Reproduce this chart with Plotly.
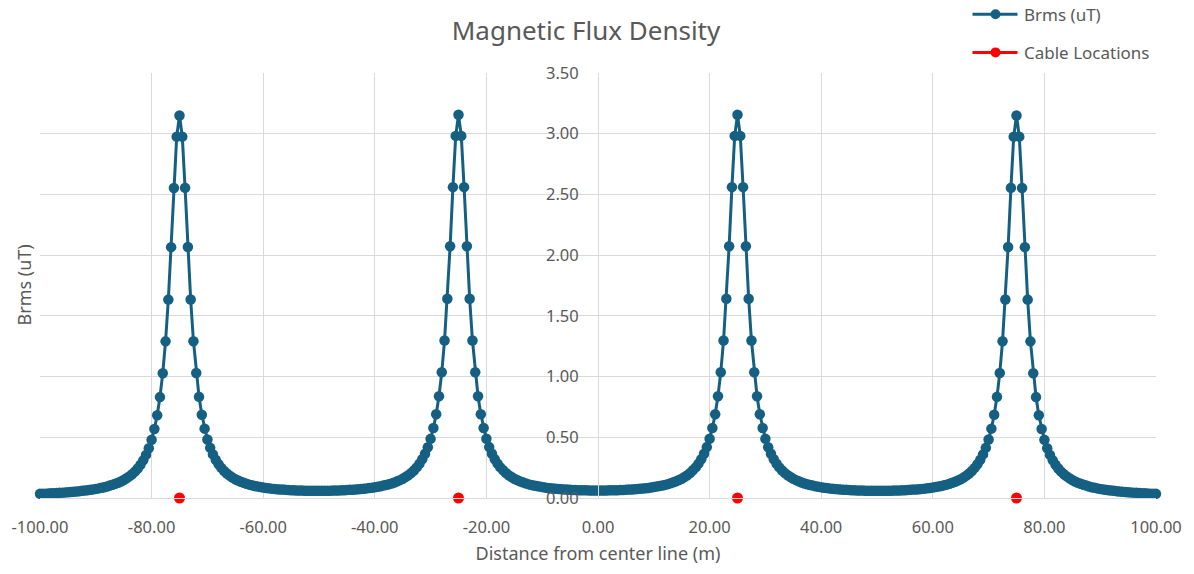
import plotly.graph_objects as go

# ---------------- data ----------------
distance_m = [
    -100, -99.5, -99, -98.5, -98, -97.5, -97, -96.5, -96, -95.5,
    -95, -94.5, -94, -93.5, -93, -92.5, -92, -91.5, -91, -90.5,
    -90, -89.5, -89, -88.5, -88, -87.5, -87, -86.5, -86, -85.5,
    -85, -84.5, -84, -83.5, -83, -82.5, -82, -81.5, -81, -80.5,
    -80, -79.5, -79, -78.5, -78, -77.5, -77, -76.5, -76, -75.5,
    -75, -74.5, -74, -73.5, -73, -72.5, -72, -71.5, -71, -70.5,
    -70, -69.5, -69, -68.5, -68, -67.5, -67, -66.5, -66, -65.5,
    -65, -64.5, -64, -63.5, -63, -62.5, -62, -61.5, -61, -60.5,
    -60, -59.5, -59, -58.5, -58, -57.5, -57, -56.5, -56, -55.5,
    -55, -54.5, -54, -53.5, -53, -52.5, -52, -51.5, -51, -50.5,
    -50, -49.5, -49, -48.5, -48, -47.5, -47, -46.5, -46, -45.5,
    -45, -44.5, -44, -43.5, -43, -42.5, -42, -41.5, -41, -40.5,
    -40, -39.5, -39, -38.5, -38, -37.5, -37, -36.5, -36, -35.5,
    -35, -34.5, -34, -33.5, -33, -32.5, -32, -31.5, -31, -30.5,
    -30, -29.5, -29, -28.5, -28, -27.5, -27, -26.5, -26, -25.5,
    -25, -24.5, -24, -23.5, -23, -22.5, -22, -21.5, -21, -20.5,
    -20, -19.5, -19, -18.5, -18, -17.5, -17, -16.5, -16, -15.5,
    -15, -14.5, -14, -13.5, -13, -12.5, -12, -11.5, -11, -10.5,
    -10, -9.5, -9, -8.5, -8, -7.5, -7, -6.5, -6, -5.5,
    -5, -4.5, -4, -3.5, -3, -2.5, -2, -1.5, -1, -0.5,
    0, 0.5, 1, 1.5, 2, 2.5, 3, 3.5, 4, 4.5,
    5, 5.5, 6, 6.5, 7, 7.5, 8, 8.5, 9, 9.5,
    10, 10.5, 11, 11.5, 12, 12.5, 13, 13.5, 14, 14.5,
    15, 15.5, 16, 16.5, 17, 17.5, 18, 18.5, 19, 19.5,
    20, 20.5, 21, 21.5, 22, 22.5, 23, 23.5, 24, 24.5,
    25, 25.5, 26, 26.5, 27, 27.5, 28, 28.5, 29, 29.5,
    30, 30.5, 31, 31.5, 32, 32.5, 33, 33.5, 34, 34.5,
    35, 35.5, 36, 36.5, 37, 37.5, 38, 38.5, 39, 39.5,
    40, 40.5, 41, 41.5, 42, 42.5, 43, 43.5, 44, 44.5,
    45, 45.5, 46, 46.5, 47, 47.5, 48, 48.5, 49, 49.5,
    50, 50.5, 51, 51.5, 52, 52.5, 53, 53.5, 54, 54.5,
    55, 55.5, 56, 56.5, 57, 57.5, 58, 58.5, 59, 59.5,
    60, 60.5, 61, 61.5, 62, 62.5, 63, 63.5, 64, 64.5,
    65, 65.5, 66, 66.5, 67, 67.5, 68, 68.5, 69, 69.5,
    70, 70.5, 71, 71.5, 72, 72.5, 73, 73.5, 74, 74.5,
    75, 75.5, 76, 76.5, 77, 77.5, 78, 78.5, 79, 79.5,
    80, 80.5, 81, 81.5, 82, 82.5, 83, 83.5, 84, 84.5,
    85, 85.5, 86, 86.5, 87, 87.5, 88, 88.5, 89, 89.5,
    90, 90.5, 91, 91.5, 92, 92.5, 93, 93.5, 94, 94.5,
    95, 95.5, 96, 96.5, 97, 97.5, 98, 98.5, 99, 99.5,
    100,
]

brms_ut = [
    0.034, 0.035, 0.036, 0.037, 0.039, 0.040, 0.041, 0.043, 0.044, 0.046,
    0.048, 0.050, 0.051, 0.054, 0.056, 0.059, 0.061, 0.064, 0.068, 0.071,
    0.075, 0.079, 0.084, 0.089, 0.095, 0.102, 0.109, 0.117, 0.126, 0.136,
    0.148, 0.162, 0.178, 0.196, 0.217, 0.243, 0.273, 0.310, 0.355, 0.410,
    0.479, 0.568, 0.682, 0.831, 1.028, 1.290, 1.634, 2.066, 2.553, 2.976,
    3.150, 2.976, 2.554, 2.067, 1.635, 1.291, 1.029, 0.833, 0.685, 0.571,
    0.482, 0.413, 0.359, 0.314, 0.278, 0.248, 0.223, 0.202, 0.184, 0.168,
    0.155, 0.144, 0.134, 0.125, 0.117, 0.110, 0.104, 0.099, 0.094, 0.090,
    0.086, 0.083, 0.080, 0.077, 0.075, 0.072, 0.070, 0.069, 0.067, 0.066,
    0.064, 0.063, 0.062, 0.062, 0.061, 0.060, 0.060, 0.060, 0.059, 0.059,
    0.059, 0.060, 0.060, 0.060, 0.060, 0.061, 0.062, 0.062, 0.063, 0.064,
    0.066, 0.067, 0.068, 0.070, 0.072, 0.074, 0.076, 0.079, 0.082, 0.085,
    0.089, 0.092, 0.097, 0.102, 0.107, 0.113, 0.120, 0.128, 0.137, 0.147,
    0.159, 0.172, 0.188, 0.205, 0.227, 0.252, 0.282, 0.319, 0.364, 0.418,
    0.487, 0.576, 0.690, 0.838, 1.035, 1.297, 1.641, 2.073, 2.560, 2.982,
    3.156, 2.982, 2.560, 2.073, 1.641, 1.297, 1.035, 0.838, 0.690, 0.577,
    0.488, 0.419, 0.364, 0.319, 0.283, 0.252, 0.228, 0.206, 0.188, 0.173,
    0.159, 0.148, 0.138, 0.129, 0.121, 0.114, 0.108, 0.103, 0.098, 0.094,
    0.090, 0.086, 0.083, 0.080, 0.078, 0.076, 0.074, 0.072, 0.070, 0.069,
    0.067, 0.066, 0.065, 0.064, 0.064, 0.063, 0.063, 0.062, 0.062, 0.062,
    0.062, 0.062, 0.062, 0.062, 0.063, 0.063, 0.064, 0.064, 0.065, 0.066,
    0.067, 0.069, 0.070, 0.072, 0.074, 0.076, 0.078, 0.080, 0.083, 0.086,
    0.090, 0.094, 0.098, 0.103, 0.108, 0.114, 0.121, 0.129, 0.138, 0.148,
    0.159, 0.173, 0.188, 0.206, 0.228, 0.252, 0.283, 0.319, 0.364, 0.419,
    0.488, 0.577, 0.690, 0.838, 1.035, 1.297, 1.641, 2.073, 2.560, 2.982,
    3.156, 2.982, 2.560, 2.073, 1.641, 1.297, 1.035, 0.838, 0.690, 0.576,
    0.487, 0.418, 0.364, 0.319, 0.282, 0.252, 0.227, 0.205, 0.188, 0.172,
    0.159, 0.147, 0.137, 0.128, 0.120, 0.113, 0.107, 0.102, 0.097, 0.092,
    0.089, 0.085, 0.082, 0.079, 0.076, 0.074, 0.072, 0.070, 0.068, 0.067,
    0.066, 0.064, 0.063, 0.062, 0.062, 0.061, 0.060, 0.060, 0.060, 0.060,
    0.059, 0.059, 0.059, 0.060, 0.060, 0.060, 0.061, 0.062, 0.062, 0.063,
    0.064, 0.066, 0.067, 0.069, 0.070, 0.072, 0.075, 0.077, 0.080, 0.083,
    0.086, 0.090, 0.094, 0.099, 0.104, 0.110, 0.117, 0.125, 0.134, 0.144,
    0.155, 0.168, 0.184, 0.202, 0.223, 0.248, 0.278, 0.314, 0.359, 0.413,
    0.482, 0.571, 0.685, 0.833, 1.029, 1.291, 1.635, 2.067, 2.554, 2.976,
    3.150, 2.976, 2.553, 2.066, 1.634, 1.290, 1.028, 0.831, 0.682, 0.568,
    0.479, 0.410, 0.355, 0.310, 0.273, 0.243, 0.217, 0.196, 0.178, 0.162,
    0.148, 0.136, 0.126, 0.117, 0.109, 0.102, 0.095, 0.089, 0.084, 0.079,
    0.075, 0.071, 0.068, 0.064, 0.061, 0.059, 0.056, 0.054, 0.051, 0.050,
    0.048, 0.046, 0.044, 0.043, 0.041, 0.040, 0.039, 0.037, 0.036, 0.035,
    0.034,
]

cable_x = [-75, -25, 25, 75]
cable_y = [0, 0, 0, 0]

x_ticks = [-100, -80, -60, -40, -20, 0, 20, 40, 60, 80, 100]
x_tick_labels = ["-100.00", "-80.00", "-60.00", "-40.00", "-20.00", "0.00",
                 "20.00", "40.00", "60.00", "80.00", "100.00"]
y_ticks = [0, 0.5, 1.0, 1.5, 2.0, 2.5, 3.0, 3.5]
y_tick_labels = ["0.00", "0.50", "1.00", "1.50", "2.00", "2.50", "3.00", "3.50"]

series_names = ["Brms (uT)", "Cable Locations"]

# ---------------- style ----------------
BLUE = "#156082"
RED = "#FF0000"
GRID = "#D9D9D9"
TEXT = "#595959"
FONT = "Noto Sans"

fig = go.Figure()
fig.add_trace(go.Scatter(
    x=distance_m, y=brms_ut, mode="lines+markers", name=series_names[0],
    line=dict(color=BLUE, width=3), marker=dict(color=BLUE, size=10.5),
    cliponaxis=False, showlegend=False,
))
fig.add_trace(go.Scatter(
    x=cable_x, y=cable_y, mode="markers", name=series_names[1],
    marker=dict(color=RED, size=11), cliponaxis=False, showlegend=False,
))

fig.update_layout(
    width=1194, height=574,
    margin=dict(l=40, r=36, t=73, b=76),
    paper_bgcolor="white", plot_bgcolor="white",
    font=dict(family=FONT, color=TEXT, size=16),
    title=dict(text="Magnetic Flux Density", x=586 / 1194, xanchor="center",
               y=1 - 31 / 574, yanchor="middle",
               font=dict(size=26, color=TEXT, family=FONT)),
    xaxis=dict(
        range=[-100, 100], tickvals=x_ticks, ticktext=x_tick_labels,
        showgrid=True, gridcolor=GRID, gridwidth=1, zeroline=False,
        showline=True, linecolor=GRID, linewidth=1,
        ticks="outside", ticklen=14, tickcolor="rgba(0,0,0,0)",
        tickfont=dict(size=16.5, color=TEXT),
        title=dict(text="Distance from center line (m)", standoff=10,
                   font=dict(size=18, color=TEXT)),
    ),
    yaxis=dict(
        range=[0, 3.5], tickvals=y_ticks, ticktext=y_tick_labels,
        anchor="free", position=0.5,
        showgrid=True, gridcolor=GRID, gridwidth=1, zeroline=False,
        showline=True, linecolor=GRID, linewidth=1,
        ticks="outside", ticklen=16, tickcolor="rgba(0,0,0,0)",
        tickfont=dict(size=16.5, color=TEXT),
    ),
)

# y-axis title on the left edge
fig.add_annotation(text="Brms (uT)", xref="paper", yref="paper", x=0, y=0.5,
                   xanchor="center", yanchor="middle", xshift=-17,
                   textangle=-90, showarrow=False,
                   font=dict(size=18, color=TEXT, family=FONT))

# custom legend (line + marker symbols)
legend_rows = [(1.1381, BLUE, series_names[0]), (1.0485, RED, series_names[1])]
for ly, col, label in legend_rows:
    fig.add_shape(type="line", xref="paper", yref="paper",
                  x0=0.8356, x1=0.8759, y0=ly, y1=ly,
                  line=dict(color=col, width=3))
    fig.add_shape(type="circle", xref="paper", yref="paper",
                  xsizemode="pixel", ysizemode="pixel",
                  xanchor=0.8562, yanchor=ly, x0=-5, x1=5, y0=-5, y1=5,
                  fillcolor=col, line=dict(width=0))
    fig.add_annotation(text=label, xref="paper", yref="paper", x=0.8795, y=ly,
                       xanchor="left", yanchor="middle", showarrow=False,
                       font=dict(size=17, color=TEXT, family=FONT))

fig.write_html("out.html")
